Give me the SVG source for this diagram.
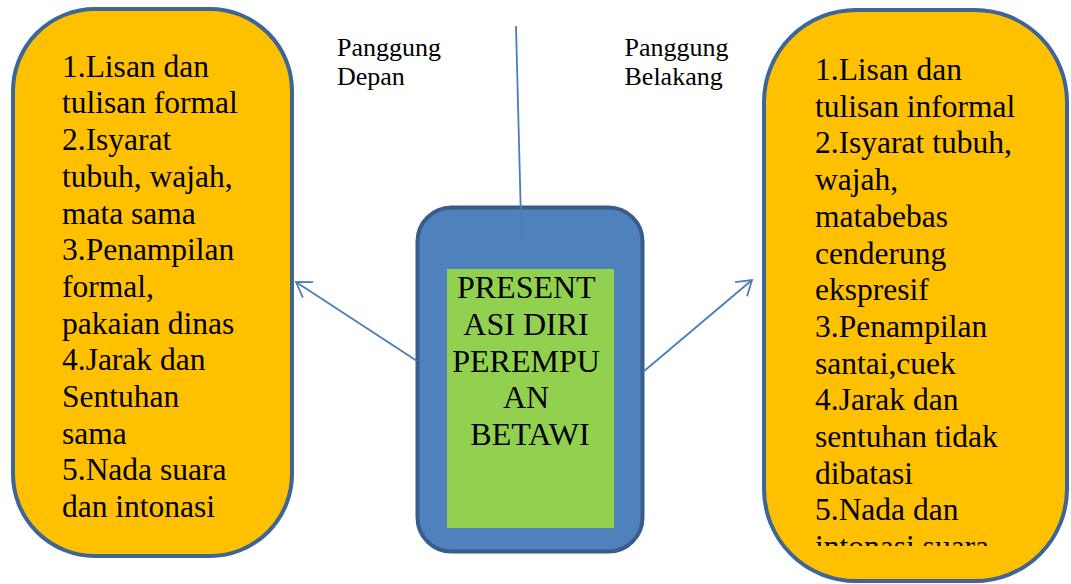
<svg xmlns="http://www.w3.org/2000/svg" width="1071" height="584" viewBox="0 0 1071 584">
<style>
text{font-family:'Liberation Serif','Times New Roman',serif;fill:#000}
.big{font-size:31.5px}
.lbl{font-size:26px}
.side{fill:#FFC000;stroke:#3D6596;stroke-width:4}
.conn{stroke:#4A7EBB;stroke-width:1.8;fill:none}
</style>
<defs>
<marker id="open" viewBox="-16 -11 18 22" markerWidth="18" markerHeight="22" refX="0" refY="0" orient="auto" markerUnits="userSpaceOnUse" overflow="visible">
<path d="M-14.3,-9.3 L0,0 L-14.3,9.3" fill="none" stroke="#4A7EBB" stroke-width="1.8"/>
</marker>
<clipPath id="rclip"><rect x="760" y="0" width="311" height="546"/></clipPath>
</defs>
<rect width="1071" height="584" fill="#fff"/>
<g id="node-left">
<rect class="side" x="13" y="9" width="279" height="547" rx="82" ry="82"/>
<text class="big" x="62">
<tspan x="62" y="76.7">1.Lisan dan</tspan>
<tspan x="62" y="113.4">tulisan formal</tspan>
<tspan x="62" y="150.1">2.Isyarat</tspan>
<tspan x="62" y="186.8">tubuh, wajah,</tspan>
<tspan x="62" y="223.5">mata sama</tspan>
<tspan x="62" y="260.2">3.Penampilan</tspan>
<tspan x="62" y="296.9">formal,</tspan>
<tspan x="62" y="333.6">pakaian dinas</tspan>
<tspan x="62" y="370.3">4.Jarak dan</tspan>
<tspan x="62" y="407">Sentuhan</tspan>
<tspan x="62" y="443.7">sama</tspan>
<tspan x="62" y="480.4">5.Nada suara</tspan>
<tspan x="62" y="517.1">dan intonasi</tspan>
</text>
</g>
<g id="node-right">
<rect class="side" x="764" y="10" width="303" height="571" rx="92" ry="92"/>
<text class="big" x="815" clip-path="url(#rclip)">
<tspan x="815" y="80">1.Lisan dan</tspan>
<tspan x="815" y="116.7">tulisan informal</tspan>
<tspan x="815" y="153.4">2.Isyarat tubuh,</tspan>
<tspan x="815" y="190.1">wajah,</tspan>
<tspan x="815" y="226.8">matabebas</tspan>
<tspan x="815" y="263.5">cenderung</tspan>
<tspan x="815" y="300.2">ekspresif</tspan>
<tspan x="815" y="336.9">3.Penampilan</tspan>
<tspan x="815" y="373.6">santai,cuek</tspan>
<tspan x="815" y="410.3">4.Jarak dan</tspan>
<tspan x="815" y="447">sentuhan tidak</tspan>
<tspan x="815" y="483.7">dibatasi</tspan>
<tspan x="815" y="520.4">5.Nada dan</tspan>
<tspan x="815" y="557.1">intonasi suara</tspan>
</text>
</g>
<g id="node-center">
<rect x="417.5" y="207.5" width="225" height="344" rx="34" ry="34" fill="#4F81BD" stroke="#385D8A" stroke-width="4"/>
<rect x="447" y="269" width="167" height="259" fill="#92D050"/>
<text font-size="32" text-anchor="middle">
<tspan x="530" y="298">PRESENT</tspan>
<tspan x="530" y="335">ASI DIRI</tspan>
<tspan x="530" y="371.5">PEREMPU</tspan>
<tspan x="530" y="408">AN</tspan>
<tspan x="530" y="445">BETAWI</tspan>
</text>
</g>
<g id="label-depan">
<text class="lbl"><tspan x="337" y="56">Panggung</tspan><tspan x="337" y="85">Depan</tspan></text>
</g>
<g id="label-belakang">
<text class="lbl"><tspan x="624.5" y="56">Panggung</tspan><tspan x="624.5" y="85">Belakang</tspan></text>
</g>
<g id="connectors">
<line class="conn" x1="516" y1="26" x2="521.5" y2="240"/>
<line class="conn" x1="417" y1="361" x2="296" y2="282" marker-end="url(#open)"/>
<line class="conn" x1="643" y1="372" x2="752" y2="280" marker-end="url(#open)"/>
</g>
</svg>
